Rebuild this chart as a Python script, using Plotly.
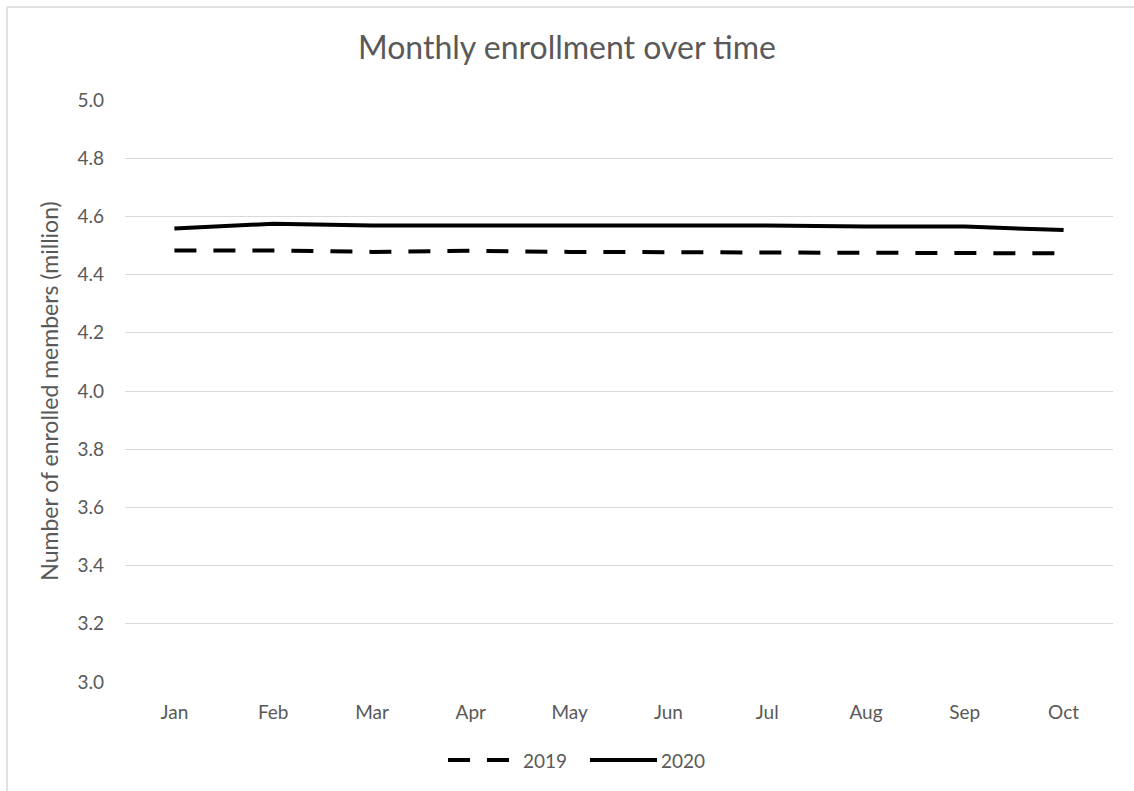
import plotly.graph_objects as go

months = ["Jan", "Feb", "Mar", "Apr", "May", "Jun", "Jul", "Aug", "Sep", "Oct"]
enrolled_2019 = [4.483, 4.483, 4.478, 4.482, 4.478, 4.477, 4.474, 4.474, 4.473, 4.473]
enrolled_2020 = [4.558, 4.575, 4.569, 4.569, 4.569, 4.569, 4.569, 4.565, 4.565, 4.553]
y_ticks = [3.0, 3.2, 3.4, 3.6, 3.8, 4.0, 4.2, 4.4, 4.6, 4.8, 5.0]

FONT = "Lato, Carlito, 'Open Sans', sans-serif"
GREY = "#595959"
GRID = "#d9d9d9"
DASH = "22px,17px"

fig = go.Figure()
fig.add_trace(go.Scatter(
    x=months, y=enrolled_2019, name="2019", mode="lines",
    line=dict(color="black", width=4, dash=DASH),
))
fig.add_trace(go.Scatter(
    x=months, y=enrolled_2020, name="2020", mode="lines",
    line=dict(color="black", width=4),
))

# pixel -> paper helpers
L, R, T, B = 125, 21, 100, 109
W, H = 1134, 791
pw, ph = W - L - R, H - T - B
def px_x(p):
    return (p - L) / pw
def px_y(p):
    return (H - B - p) / ph

# chart frame (top and left edges)
frame = dict(type="line", xref="paper", yref="paper", line=dict(color=GRID, width=1.5))
fig.add_shape(**frame, x0=px_x(7), x1=px_x(1140), y0=px_y(7), y1=px_y(7))
fig.add_shape(**frame, x0=px_x(7), x1=px_x(7), y0=px_y(7), y1=px_y(800))

# legend below the plot
leg_y = px_y(760)
fig.add_shape(type="line", xref="paper", yref="paper", x0=px_x(448), x1=px_x(510),
              y0=leg_y, y1=leg_y, line=dict(color="black", width=4, dash=DASH))
fig.add_shape(type="line", xref="paper", yref="paper", x0=px_x(590), x1=px_x(657),
              y0=leg_y, y1=leg_y, line=dict(color="black", width=4))
for label, x in [("2019", 521), ("2020", 659)]:
    fig.add_annotation(text=label, xref="paper", yref="paper", x=px_x(x), y=leg_y,
                       xanchor="left", yanchor="middle", showarrow=False,
                       font=dict(size=19, color=GREY, family=FONT))

fig.update_layout(
    width=W, height=H,
    margin=dict(l=L, r=R, t=T, b=B),
    paper_bgcolor="white", plot_bgcolor="white",
    font=dict(family=FONT, color=GREY, size=19),
    title=dict(text="Monthly enrollment over time", x=0.5, xanchor="center",
               y=1 - 48 / H, yanchor="middle",
               font=dict(size=32, color=GREY, family=FONT)),
    showlegend=False,
)
fig.update_xaxes(
    type="category", range=[-0.5, 9.5], showgrid=False, showline=False,
    ticks="", tickfont=dict(size=19, color=GREY), ticklabelstandoff=17,
)
fig.update_yaxes(
    range=[3.0, 5.0], tickvals=y_ticks, ticktext=[f"{v:.1f}" for v in y_ticks],
    showgrid=True, gridcolor=GRID, gridwidth=1, zeroline=False, showline=False,
    ticks="", tickfont=dict(size=19, color=GREY), ticklabelstandoff=20,
    title=dict(text="Number of enrolled members (million)", standoff=12,
               font=dict(size=23, color=GREY)),
)

fig.write_html("out.html")
